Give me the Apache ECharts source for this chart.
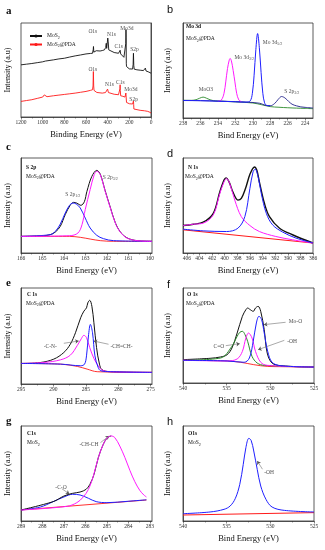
<!DOCTYPE html>
<html><head><meta charset="utf-8">
<script src="https://cdn.jsdelivr.net/npm/echarts@6/dist/echarts.min.js"></script>
<style>html,body{margin:0;padding:0;background:#fff}#c{width:325px;height:550px}</style>
</head><body><div id="c"></div>
<script>
// ---------- tick labels ----------
const aTicks = [1200,1000,800,600,400,200,0];
const aMinor = [1100,900,700,500,300,100];
const bTicks = [238,236,234,232,230,228,226,224];
const bMinor = [237,235,233,231,229,227,225];
const cTicks = [166,165,164,163,162,161,160];
const cMinor = [165.5,164.5,163.5,162.5,161.5,160.5];
const dTicks = [406,404,402,400,398,396,394,392,390,388,386];
const dMinor = [405,403,401,399,397,395,393,391,389,387];
const eTicks = [295,290,285,280,275];
const eMinor = [292.5,287.5,282.5,277.5];
const fTicks = [540,535,530,525];
const fMinor = [537.5,532.5,527.5];
const gTicks = [289,288,287,286,285,284,283];
const gMinor = [288.5,287.5,286.5,285.5,284.5,283.5];
const hTicks = [540,535,530,525];
const hMinor = [537.5,532.5,527.5];

// ---------- series values [binding energy, intensity] ----------
const aMoS2 = [[1200,55.5],[1150,56.2],[1100,56.9],[1050,57.8],[1000,58.7],[985,60.5],[975,59.5],[960,58.9],[900,60.8],[850,61.8],[800,62.5],[750,63.8],[700,65.0],[650,66.0],[600,67.1],[560,67.6],[540,67.8],[533,72],[531,75],[528,69],[520,68.6],[505,70.5],[495,69.8],[470,70.2],[450,70.7],[430,71.4],[418,74],[413,78.4],[409,73],[404,75],[399,84],[395,80],[390,71.4],[380,69.6],[340,68.6],[300,67.8],[292,69],[285,71],[280,67.1],[270,65.5],[250,63.5],[240,62.5],[236,64],[233,78],[231,93],[229.5,85],[228,57.2],[226,53.7],[220,51.9],[200,51.2],[170,51],[165,56],[162,67.8],[159,55],[155,50.9],[130,50.2],[100,49.8],[70,49.4],[60,50],[52,52],[46,49],[35,48.5],[20,47.8],[10,47.2],[0,46.6]];
const aPDA = [[1200,16.6],[1150,17.5],[1100,18.4],[1050,19.8],[1000,21.2],[985,23.5],[978,24.4],[970,22],[960,21.6],[900,22.6],[850,23.3],[800,24.0],[750,24.7],[700,25.4],[650,26.3],[600,27.2],[560,28.3],[540,29.0],[535,33],[532,48.4],[529,33],[526,28.3],[515,26.8],[500,26.1],[450,25.4],[420,26],[414,27.5],[408,26.5],[401,29.7],[398,29],[393,26],[385,25],[340,24.2],[300,23.7],[292,24],[287,30],[285,34.3],[283,28],[280,22.6],[260,22],[240,21.2],[234,22.5],[232,25.5],[230,24],[228,24.7],[226,15.5],[220,14.8],[200,14.1],[170,13.8],[165,14.2],[162,17],[160,13.5],[158,8.5],[150,7.8],[100,7.1],[60,6.6],[50,6.4],[30,6],[10,5],[0,4.2]];

const bGreen = [[238,18.6],[237,18.6],[236.5,19.3],[236.1,20.8],[235.7,22],[235.3,20.8],[234.9,19.2],[234.5,18.2],[234,17.8],[232,17],[230,15.8],[229,14],[228,12],[227,11.3],[226,10.8],[225,10.4],[224,10.1],[223.1,9.8]];
const bNavy = [[238,18.5],[236,18.3],[234,17.8],[232,17.2],[230.5,16.6],[229.2,15.5],[228.6,13.5],[228,12.9],[227.5,15.2],[227.1,19.5],[226.7,22.6],[226.3,21],[225.9,17.5],[225.5,14.5],[225,12.8],[224.5,11.7],[224,11.2],[223.1,10.5]];
const bMagenta = [[234,17.5],[233.6,19],[233.3,26],[233.1,38],[232.9,52],[232.7,61],[232.6,62.7],[232.45,60],[232.25,50],[232.05,38],[231.85,26],[231.6,19],[231.3,17.2]];
const bBlue = [[238,18.4],[236,18.2],[234,17.7],[232,17.1],[230.8,16.7],[230.3,18],[230.05,26],[229.85,45],[229.65,72],[229.45,88.9],[229.25,74],[229.05,48],[228.85,26],[228.65,16],[228.4,13.2],[228,12.9]];

const cBlack = [[166,17.5],[164.95,18.2],[164.64,19.3],[164.4,22.1],[164.17,28.1],[163.94,40.4],[163.71,50.2],[163.55,53.3],[163.4,52.5],[163.21,50.2],[163.05,54],[162.93,64.9],[162.7,80.7],[162.47,87],[162.31,83],[162.08,65.5],[161.84,48],[161.61,32],[161.38,22.4],[161.07,16],[160.6,13],[159.9,12.3]];
const cBlue = [[166,17.5],[164.64,19.3],[164.4,22.8],[164.17,30.5],[163.94,42.1],[163.74,50.2],[163.58,52.6],[163.43,51.6],[163.24,47.4],[163.01,36.8],[162.78,26.3],[162.47,18.6],[162.16,15.1],[161.69,13],[159.9,12.3]];
const cMagenta = [[166,17.5],[163.74,18.2],[163.35,21],[163.16,29.8],[163.01,45.6],[162.78,66.7],[162.59,82.5],[162.47,86],[162.31,82.5],[162.08,64.9],[161.84,47.4],[161.61,31.6],[161.38,22.1],[161.07,15.8],[160.6,13],[159.9,12.3]];
const cRed = [[166,17.5],[163.74,17.5],[163.24,16.5],[162.78,14.7],[162.31,13],[161.69,12.3],[159.9,12.3]];

const dBlack = [[406.6,28.9],[404.95,30.3],[403.4,32.4],[401.8,41.8],[400.76,64.5],[400.1,76.7],[399.8,79.1],[399.3,74.9],[398.67,63.8],[397.9,55.7],[397.36,57.5],[396.7,67.9],[395.95,83.6],[395.27,90.6],[394.9,87.1],[394.5,74.9],[393.7,52.3],[392.9,38.3],[391.3,26.1],[389.25,19.2],[386,10.5]];
const dMagenta = [[406.6,28.9],[404.95,30.3],[403.4,31.4],[401.8,40.1],[400.76,62.7],[400.1,74.9],[399.7,78.4],[399.2,73.2],[398.4,55.7],[397.36,38.3],[396,28.9],[394.5,22.6],[391.9,17.4],[389.25,13.9],[386,10.5]];
const dBlue = [[406.6,25.1],[403.4,23.3],[399.7,22.6],[397.9,26.1],[396.8,38.3],[396,67.9],[395.5,85.4],[395.16,88.2],[394.7,80.1],[394.2,62.7],[393.4,41.8],[392.4,29.6],[390.8,22],[388.7,15.7],[386,10.5]];
const dRed = [[406.6,24.4],[386,10.5]];

const eBlack = [[295,21.4],[292,22.4],[289.95,25.9],[288.4,32.8],[287.4,41.4],[286.6,53.4],[285.8,69],[285.3,75.9],[284.9,79.3],[284.7,84.5],[284.4,87.2],[284.07,81],[283.76,63.8],[283.35,37.9],[282.9,20.7],[282.5,14.8],[281.2,12.8],[274.8,12.1]];
const eMagenta = [[295,21.4],[291.5,22.4],[288.9,25.2],[287.4,30],[286.3,40.3],[285.7,47.2],[285.3,50.7],[284.9,48.3],[284.4,37.9],[283.76,26.6],[283.1,19],[282.5,14.5],[281.2,12.8],[274.8,12.1]];
const eBlue = [[295,21.4],[288.9,20.7],[285.8,19],[285.2,20.7],[284.9,29.3],[284.6,50],[284.3,62.1],[283.97,53.4],[283.6,29.3],[283.1,17.2],[282.7,13.8],[281.2,12.8],[274.8,12.1]];
const eRed = [[295,21.4],[288.9,20.7],[286.3,18.3],[284.8,15.5],[283.25,12.8],[274.8,12.1]];

const fBlack = [[540,24.6],[536.9,26],[535.7,27.4],[534.95,29.8],[534.4,36.8],[533.8,52.6],[533.2,70.2],[532.8,77.2],[532.6,78.9],[532.3,77.2],[531.96,75.4],[531.7,78.9],[531.4,80.7],[531.1,75.4],[530.7,56.1],[530.36,31.6],[529.8,21],[528.8,18.2],[525,16.8]];
const fGreen = [[540,23.9],[535.7,26.3],[534.4,38.6],[533.8,49.1],[533.5,53.3],[533.2,54.4],[532.9,50.9],[532.6,43.9],[532.1,28.1],[531.5,21],[530.7,18.6],[525,16.8]];
const fMagenta = [[540,23.9],[534.95,23.2],[533.8,25.3],[533.2,33.3],[532.8,47.4],[532.5,52.6],[532.1,47.4],[531.7,33.3],[531.1,21.8],[530.36,18.6],[525,16.8]];
const fBlue = [[540,23.9],[534.95,23.2],[533,21.8],[532.4,26.3],[531.96,43.9],[531.6,63.2],[531.3,70.2],[531,66.7],[530.7,52.6],[530.3,33.3],[529.8,21.8],[528.8,18.2],[525,16.8]];
const fRed = [[540,23.9],[534.95,23.2],[533.4,21.8],[531.9,19.3],[530.36,17.5],[528.8,17.2],[525,16.8]];

const gBlack = [[289,11.6],[287.5,20.4],[287,26.3],[286.6,29.1],[286.25,30.5],[285.97,33.3],[285.79,38.6],[285.6,49.1],[285.4,66.7],[285.17,80.7],[284.98,87.7],[284.8,89.5]];
const gBlue = [[289,11.6],[288.1,14.7],[287.5,20.4],[287,25.3],[286.6,28.1],[286.25,27.4],[285.86,23.9],[285.5,20.4],[285,19.3],[284,20.8],[283.16,22.3]];
const gMagenta = [[289,11.6],[286.87,15.4],[286.4,19.3],[286.1,25.3],[285.86,33.3],[285.63,47.4],[285.4,66.7],[285.17,80.7],[284.98,87.7],[284.8,89.5],[284.63,87.7],[284.4,78.9],[284.16,66.7],[283.93,53.3],[283.7,41.4],[283.47,32.3],[283.28,27.4],[283.16,25.3]];
const gRed = [[289,11.6],[283.16,22.1]];

const hBlue = [[540,7.7],[536.9,9.5],[535.3,12.3],[534.6,15.8],[534,23.9],[533.5,38.6],[533.1,59.6],[532.8,77.2],[532.46,87],[532.2,84.9],[531.9,73.7],[531.5,54.4],[531.1,36.8],[530.5,22.8],[529.8,14.7],[528.4,11.2],[525,9.5]];
const hRed = [[540,6.3],[525,8.8]];

// ---------- build ----------
const SERIF = "'Liberation Serif','DejaVu Serif',serif";
const C = {black:'#111111', red:'#ff1a1a', blue:'#1f1fff', navy:'#20208a', mag:'#ff1aff', green:'#2a8a2a'};
const RICH = {
  s:{fontSize:4, fontFamily:SERIF, color:'#222', verticalAlign:'bottom', padding:[3,0,0,0]},
  b:{fontSize:5.5, fontFamily:SERIF, fontWeight:'bold', color:'#111'},
  n:{fontSize:5.5, fontFamily:SERIF, color:'#222'}
};

const L = 21, R = 183;
const panels = [
  {grid:{left:L, top:23, width:130, height:94}, min:0, max:1200, ticks:aTicks, minor:aMinor, name:'Binding Energy (eV)'},
  {grid:{left:R, top:23, width:130, height:95}, min:223.1, max:238, ticks:bTicks, minor:bMinor, name:'Bind Energy (eV)'},
  {grid:{left:L, top:158, width:131, height:95}, min:159.9, max:166, ticks:cTicks, minor:cMinor, name:'Bind Energy (eV)'},
  {grid:{left:R, top:158, width:130, height:95}, min:386, max:406.6, ticks:dTicks, minor:dMinor, name:'Bind Energy (eV)'},
  {grid:{left:L, top:288, width:131, height:96}, min:274.8, max:295, ticks:eTicks, minor:eMinor, name:'Bind Energy (eV)'},
  {grid:{left:R, top:288, width:131, height:95}, min:525, max:540, ticks:fTicks, minor:fMinor, name:'Bind Energy (eV)'},
  {grid:{left:L, top:426, width:131, height:95}, min:282.9, max:289, ticks:gTicks, minor:gMinor, name:'Bind Energy (eV)'},
  {grid:{left:R, top:426, width:131, height:95}, min:525, max:540, ticks:hTicks, minor:hMinor, name:'Bind Energy (eV)'}
];

const grid = [], xAxis = [], yAxis = [], series = [];
panels.forEach((p, i) => {
  grid.push(Object.assign({show:true, borderColor:'#333', borderWidth:0.8, containLabel:false}, p.grid));
  xAxis.push({type:'value', gridIndex:i, min:p.min, max:p.max, inverse:true, position:'bottom',
    axisLine:{show:true, onZero:false, lineStyle:{color:'#333', width:0.8}},
    axisTick:{show:true, length:2.5, customValues:p.ticks, lineStyle:{color:'#333', width:0.6}},
    axisLabel:{show:true, customValues:p.ticks, fontSize:5.5, margin:3, color:'#333', fontFamily:SERIF,
      showMinLabel:true, showMaxLabel:true, formatter: v => String(v)},
    splitLine:{show:false},
    name:p.name, nameLocation:'middle', nameGap:13,
    nameTextStyle:{fontSize:8.5, fontFamily:SERIF, color:'#111'}});
  xAxis.push({type:'value', gridIndex:i, min:p.min, max:p.max, inverse:true, position:'bottom',
    axisLine:{show:false}, axisLabel:{show:false}, splitLine:{show:false},
    axisTick:{show:true, length:1.5, customValues:p.minor, lineStyle:{color:'#333', width:0.5}}});
  yAxis.push({type:'value', gridIndex:i, min:0, max:100,
    axisLine:{show:true, lineStyle:{color:'#333', width:0.8}}, axisTick:{show:false},
    axisLabel:{show:false}, splitLine:{show:false},
    name:'Intensity (a.u)', nameLocation:'middle', nameRotate:90, nameGap:(i%2===0?9:11),
    nameTextStyle:{fontSize:8, fontFamily:SERIF, color:'#111'}});
});

function line(i, name, data, color, width, smooth, z) {
  series.push({type:'line', name, xAxisIndex:2*i, yAxisIndex:i, data, symbol:'none',
    smooth: smooth ? 0.35 : false, lineStyle:{color, width}, itemStyle:{color}, z:z||2, silent:true});
}
function notes(i, items, arrows) {
  series.push({type:'scatter', xAxisIndex:2*i, yAxisIndex:i, symbolSize:0, silent:true, z:10,
    label:{show:true, position:'right', distance:0, fontSize:5.5, fontFamily:SERIF, color:'#222', rich:RICH,
      formatter: pr => pr.data.t},
    data: items.map(it => ({value:[it[0], it[1]], t:it[2]})),
    markLine: arrows ? {silent:true, symbol:['none','arrow'], symbolSize:3.5, animation:false,
      label:{show:false}, lineStyle:{color:'#555', width:0.5, type:'solid'},
      data: arrows.map(a => [{coord:[a[0],a[1]]},{coord:[a[2],a[3]]}])} : undefined});
}

// a
line(0, 'MoS2', aMoS2, C.black, 0.9, false, 3);
line(0, 'MoS2@PDA', aPDA, C.red, 0.9, false, 3);
notes(0, [[578,90.8,'O1s'],[406,87.3,'N1s'],[283,94.3,'Mo3d'],[338,74.9,'C1s'],[191,71.4,'S2p'],
  [578,50.2,'O1s'],[425,34.3,'N1s'],[323,36.7,'C1s'],[246,29,'Mo3d'],[200,19,'S2p']]);
// b
line(1, 'g', bGreen, C.green, 0.9, true, 2);
line(1, 'n', bNavy, C.navy, 0.9, true, 3);
line(1, 'm', bMagenta, C.mag, 1, true, 4);
line(1, 'bl', bBlue, C.blue, 1, true, 5);
notes(1, [[236.2,29.6,'MoO3'],[232.1,63.8,'Mo 3d{s|3/2}'],[228.86,79,'Mo 3d{s|5/2}'],[226.4,27.9,'S 2p{s|3/2}']]);
// c
line(2, 'k', cBlack, C.black, 1, true, 2);
line(2, 'r', cRed, C.red, 0.9, true, 3);
line(2, 'bl', cBlue, C.blue, 1, true, 4);
line(2, 'm', cMagenta, C.mag, 1, true, 5);
notes(2, [[163.94,61.4,'S 2p{s|1/2}'],[162.19,79,'S 2p{s|3/2}']]);
// d
line(3, 'k', dBlack, C.black, 1.4, true, 2);
line(3, 'r', dRed, C.red, 1, false, 3);
line(3, 'm', dMagenta, C.mag, 1, true, 4);
line(3, 'bl', dBlue, C.blue, 1, true, 5);
// e
line(4, 'k', eBlack, C.black, 1, true, 2);
line(4, 'r', eRed, C.red, 0.9, true, 3);
line(4, 'm', eMagenta, C.mag, 1, true, 4);
line(4, 'bl', eBlue, C.blue, 1, true, 5);
notes(4, [[291.5,39,'-C-N-'],[281.2,39,'-CH=CH-']], [[288.4,42.4,286.1,44.8],[281.5,41.4,283.8,44.8]]);
// f
line(5, 'k', fBlack, C.black, 1, true, 2);
line(5, 'r', fRed, C.red, 0.9, true, 3);
line(5, 'g', fGreen, C.green, 1, true, 4);
line(5, 'm', fMagenta, C.mag, 1, true, 5);
line(5, 'bl', fBlue, C.blue, 1, true, 6);
notes(5, [[527.9,64.9,'Mo-O'],[528.06,43.9,'-OH'],[536.5,38.6,'C=O']],
  [[528.25,63.9,530.74,61.4],[528.4,44.9,531.4,35.1],[535.1,39.3,533.5,41.4]]);
// g
line(6, 'r', gRed, C.red, 0.9, false, 2);
line(6, 'bl', gBlue, C.blue, 1, true, 3);
line(6, 'k', gBlack, C.black, 1, true, 4);
line(6, 'm', gMagenta, C.mag, 1, true, 5);
notes(6, [[287.4,35.1,'-C-O'],[286.28,80.7,'-CH-CH']], [[287.1,34,286.75,28.5],[285.3,82.5,284.9,89.5]]);
// h
line(7, 'r', hRed, C.red, 1, false, 2);
line(7, 'bl', hBlue, C.blue, 1, true, 3);
notes(7, [[530.7,50.9,'-OH']], [[530.9,54.5,531.5,63.2]]);

function txt(x, y, text, font) {
  return {type:'text', x, y, silent:true,
    style:{text, font, fill:'#111', rich:RICH, verticalAlign:'middle'}};
}
const graphic = [
  txt(6, 11, 'a', "bold 11px 'Liberation Serif'"),
  txt(167, 10, 'b', "11px 'Liberation Sans'"),
  txt(6, 147, 'c', "bold 11px 'Liberation Serif'"),
  txt(167, 154, 'd', "11px 'Liberation Sans'"),
  txt(6, 283, 'e', "bold 11px 'Liberation Serif'"),
  txt(167, 285, 'f', "11px 'Liberation Sans'"),
  txt(6, 421, 'g', "bold 11px 'Liberation Serif'"),
  txt(167, 422, 'h', "11px 'Liberation Sans'"),
  txt(186, 26.5, '{b|Mo 3d}', "5.5px 'Liberation Serif'"),
  txt(186, 39, '{n|MoS}{s|2}{n|@PDA}', "5.5px 'Liberation Serif'"),
  txt(26, 168, '{b|S 2p}', "5.5px 'Liberation Serif'"),
  txt(26, 176.5, '{n|MoS}{s|2}{n|@PDA}', "5.5px 'Liberation Serif'"),
  txt(188, 168, '{b|N 1s}', "5.5px 'Liberation Serif'"),
  txt(185, 177, '{n|MoS}{s|2}{n|@PDA}', "5.5px 'Liberation Serif'"),
  txt(27, 295, '{b|C 1s}', "5.5px 'Liberation Serif'"),
  txt(26, 303.5, '{n|MoS}{s|2}{n|@PDA}', "5.5px 'Liberation Serif'"),
  txt(187, 295, '{b|O 1s}', "5.5px 'Liberation Serif'"),
  txt(186, 304, '{n|MoS}{s|2}{n|@PDA}', "5.5px 'Liberation Serif'"),
  txt(27, 434, '{b|C1s}', "5.5px 'Liberation Serif'"),
  txt(27, 443, '{n|MoS}{s|2}', "5.5px 'Liberation Serif'"),
  txt(188, 434, '{b|O1s}', "5.5px 'Liberation Serif'"),
  txt(188, 443, '{n|MoS}{s|2}', "5.5px 'Liberation Serif'")
];

const chart = echarts.init(document.getElementById('c'), null, {renderer:'canvas'});
chart.setOption({
  animation:false,
  backgroundColor:'#fff',
  grid, xAxis, yAxis, series, graphic,
  legend:{data:['MoS2','MoS2@PDA'], orient:'vertical', left:24, top:28, itemWidth:12, itemHeight:4, itemGap:2,
    textStyle:{fontSize:5, fontFamily:SERIF, color:'#222', rich:RICH},
    formatter: n => n === 'MoS2' ? '{n|MoS}{s|2}' : '{n|MoS}{s|2}{n|@PDA}'}
});
</script></body></html>
